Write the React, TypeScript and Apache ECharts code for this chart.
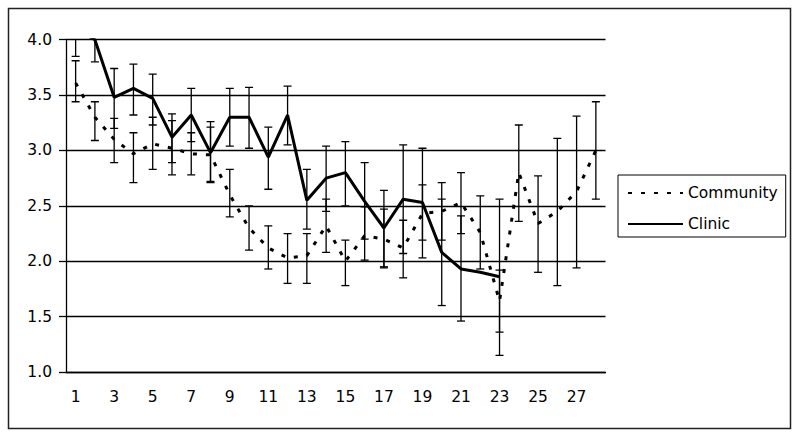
import React, { useEffect, useRef } from "react";
import * as echarts from "echarts";

const categories: string[] = [
  "1", "2", "3", "4", "5", "6", "7", "8", "9", "10", "11", "12", "13", "14",
  "15", "16", "17", "18", "19", "20", "21", "22", "23", "24", "25", "26", "27", "28",
];

const communityMean: number[] = [
  3.61, 3.3, 3.1, 2.97, 3.06, 3.02, 2.97, 2.96, 2.6, 2.3, 2.12, 2.03, 2.05, 2.32,
  2.0, 2.23, 2.2, 2.12, 2.43, 2.45, 2.53, 2.26, 1.64, 2.8, 2.34, 2.45, 2.63, 3.0,
];
const communityLow: number[] = [
  3.44, 3.09, 2.89, 2.71, 2.83, 2.78, 2.78, 2.72, 2.4, 2.1, 1.93, 1.8, 1.8, 2.08,
  1.78, 2.01, 1.94, 1.85, 2.19, 2.19, 2.25, 1.93, 1.36, 2.36, 1.9, 1.78, 1.94, 2.56,
];
const communityHigh: number[] = [
  3.81, 3.44, 3.29, 3.16, 3.3, 3.27, 3.16, 3.21, 2.83, 2.5, 2.32, 2.25, 2.25, 2.56,
  2.19, 2.49, 2.47, 2.37, 2.69, 2.71, 2.8, 2.59, 1.92, 3.23, 2.77, 3.11, 3.31, 3.44,
];

const clinicMean: number[] = [
  4.1, 4.0, 3.48, 3.56, 3.47, 3.12, 3.32, 2.98, 3.3, 3.3, 2.94, 3.32, 2.55, 2.75,
  2.8, 2.54, 2.3, 2.56, 2.53, 2.08, 1.93, 1.9, 1.86,
];
const clinicLow: (number | null)[] = [
  3.85, 3.8, 3.2, 3.32, 3.23, 2.89, 3.08, 2.71, 3.04, 3.02, 2.65, 3.05, 2.29, 2.45,
  2.5, 2.2, 1.95, 2.07, 2.03, 1.6, 1.46, null, 1.15,
];
const clinicHigh: (number | null)[] = [
  4.35, 4.25, 3.74, 3.78, 3.69, 3.33, 3.56, 3.26, 3.56, 3.57, 3.21, 3.58, 2.83, 3.04,
  3.08, 2.89, 2.64, 3.05, 3.02, 2.56, 2.41, null, 2.56,
];

const FONT = "DejaVu Sans";
const FS = 15.5;

function errorData(low: (number | null)[], high: (number | null)[]) {
  const out: number[][] = [];
  low.forEach((l, i) => {
    const h = high[i];
    if (l != null && h != null) out.push([i, l, h]);
  });
  return out;
}

function renderErrorBar(_params: any, api: any) {
  const x = api.value(0);
  const lo = api.coord([x, api.value(1)]);
  const hi = api.coord([x, api.value(2)]);
  const w = 4;
  const style = { stroke: "#000", lineWidth: 1.3 };
  return {
    type: "group",
    children: [
      { type: "line", shape: { x1: lo[0], y1: lo[1], x2: hi[0], y2: hi[1] }, style },
      { type: "line", shape: { x1: lo[0] - w, y1: lo[1], x2: lo[0] + w, y2: lo[1] }, style },
      { type: "line", shape: { x1: hi[0] - w, y1: hi[1], x2: hi[0] + w, y2: hi[1] }, style },
    ],
  };
}

export default function App() {
  const ref = useRef<HTMLDivElement>(null);
  useEffect(() => {
    if (!ref.current) return;
    const chart = echarts.init(ref.current, null, { renderer: "svg" });
    chart.setOption({
      animation: false,
      backgroundColor: "#fff",
      textStyle: { fontFamily: FONT },
      grid: { left: 66, right: 194.5, top: 39.7, bottom: 66 },
      graphic: [
        {
          type: "rect",
          shape: { x: 8.5, y: 8.5, width: 782, height: 420 },
          style: { fill: "none", stroke: "#222", lineWidth: 1.5 },
          silent: true,
        },
      ],
      legend: {
        data: ["Community", "Clinic"],
        orient: "vertical",
        left: 618,
        top: 175,
        padding: [10, 8, 5, 9],
        itemGap: 15,
        itemWidth: 55,
        itemHeight: 14,
        borderColor: "#000",
        borderWidth: 1,
        itemStyle: { color: "transparent", borderWidth: 0, opacity: 0 },
        textStyle: { fontFamily: FONT, fontSize: FS, color: "#000" },
      },
      xAxis: {
        type: "category",
        data: categories,
        boundaryGap: true,
        axisLine: { lineStyle: { color: "#000", width: 1.3 } },
        axisTick: { interval: 0, length: 6, lineStyle: { color: "#000", width: 1.3 } },
        axisLabel: { interval: 1, margin: 17, fontFamily: FONT, fontSize: FS, color: "#000" },
      },
      yAxis: {
        type: "value",
        min: 1,
        max: 4,
        interval: 0.5,
        axisLine: { show: true, lineStyle: { color: "#000", width: 1.3 } },
        axisTick: { show: true, length: 7, lineStyle: { color: "#000", width: 1.3 } },
        splitLine: { show: true, lineStyle: { color: "#000", width: 1.3 } },
        axisLabel: {
          margin: 14,
          fontFamily: FONT,
          fontSize: FS,
          color: "#000",
          formatter: (v: number) => v.toFixed(1),
        },
      },
      series: [
        {
          name: "Community",
          type: "line",
          data: communityMean,
          symbol: "none",
          clip: true,
          lineStyle: { color: "#000", width: 3, type: [4, 9] },
          itemStyle: { color: "#000" },
          z: 3,
        },
        {
          name: "Clinic",
          type: "line",
          data: clinicMean,
          symbol: "none",
          clip: true,
          lineStyle: { color: "#000", width: 3, type: "solid" },
          itemStyle: { color: "#000" },
          z: 3,
        },
        {
          name: "Community error",
          type: "custom",
          data: errorData(communityLow, communityHigh),
          encode: { x: 0, y: [1, 2] },
          renderItem: renderErrorBar,
          clip: true,
          z: 4,
        },
        {
          name: "Clinic error",
          type: "custom",
          data: errorData(clinicLow, clinicHigh),
          encode: { x: 0, y: [1, 2] },
          renderItem: renderErrorBar,
          clip: true,
          z: 4,
        },
      ],
    });
    return () => chart.dispose();
  }, []);
  return (
    <div
      ref={ref}
      style={{ position: "absolute", left: 0, top: 0, width: 800, height: 438 }}
    />
  );
}
